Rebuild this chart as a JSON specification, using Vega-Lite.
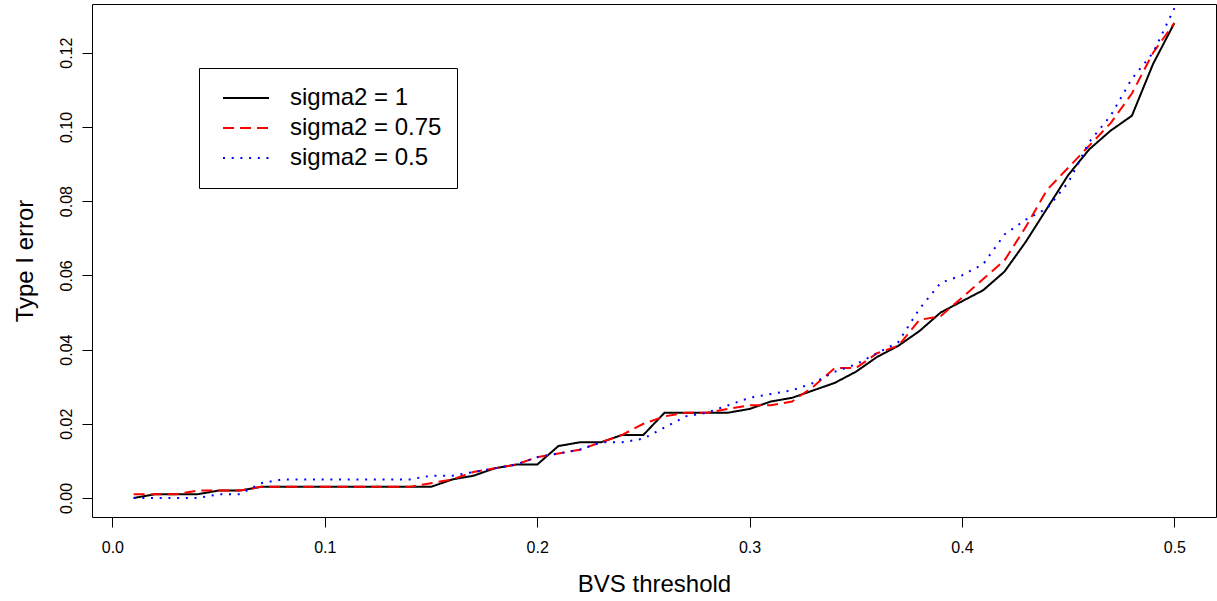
{
  "$schema": "https://vega.github.io/schema/vega-lite/v6.json",
  "width": 1124,
  "height": 513,
  "autosize": {"type": "none"},
  "padding": {"left": 92, "top": 4, "right": 1, "bottom": 84},
  "background": "white",
  "config": {
    "view": {"stroke": "black", "strokeWidth": 1},
    "font": "Liberation Sans",
    "axis": {
      "domain": false,
      "grid": false,
      "tickColor": "black",
      "tickWidth": 1,
      "tickSize": 10,
      "labelColor": "black",
      "labelFont": "Liberation Sans",
      "labelFontSize": 16,
      "titleFont": "Liberation Sans",
      "titleFontSize": 24,
      "titleFontWeight": "normal",
      "titleColor": "black"
    }
  },
  "datasets": {
    "d": [
      {"x":0.01,"s":"sigma2 = 1","v":0.000},{"x":0.02,"s":"sigma2 = 1","v":0.001},{"x":0.03,"s":"sigma2 = 1","v":0.001},{"x":0.04,"s":"sigma2 = 1","v":0.001},{"x":0.05,"s":"sigma2 = 1","v":0.002},
      {"x":0.06,"s":"sigma2 = 1","v":0.002},{"x":0.07,"s":"sigma2 = 1","v":0.003},{"x":0.08,"s":"sigma2 = 1","v":0.003},{"x":0.09,"s":"sigma2 = 1","v":0.003},{"x":0.10,"s":"sigma2 = 1","v":0.003},
      {"x":0.11,"s":"sigma2 = 1","v":0.003},{"x":0.12,"s":"sigma2 = 1","v":0.003},{"x":0.13,"s":"sigma2 = 1","v":0.003},{"x":0.14,"s":"sigma2 = 1","v":0.003},{"x":0.15,"s":"sigma2 = 1","v":0.003},
      {"x":0.16,"s":"sigma2 = 1","v":0.005},{"x":0.17,"s":"sigma2 = 1","v":0.006},{"x":0.18,"s":"sigma2 = 1","v":0.008},{"x":0.19,"s":"sigma2 = 1","v":0.009},{"x":0.20,"s":"sigma2 = 1","v":0.009},
      {"x":0.21,"s":"sigma2 = 1","v":0.014},{"x":0.22,"s":"sigma2 = 1","v":0.015},{"x":0.23,"s":"sigma2 = 1","v":0.015},{"x":0.24,"s":"sigma2 = 1","v":0.017},{"x":0.25,"s":"sigma2 = 1","v":0.017},
      {"x":0.26,"s":"sigma2 = 1","v":0.023},{"x":0.27,"s":"sigma2 = 1","v":0.023},{"x":0.28,"s":"sigma2 = 1","v":0.023},{"x":0.29,"s":"sigma2 = 1","v":0.023},{"x":0.30,"s":"sigma2 = 1","v":0.024},
      {"x":0.31,"s":"sigma2 = 1","v":0.026},{"x":0.32,"s":"sigma2 = 1","v":0.027},{"x":0.33,"s":"sigma2 = 1","v":0.029},{"x":0.34,"s":"sigma2 = 1","v":0.031},{"x":0.35,"s":"sigma2 = 1","v":0.034},
      {"x":0.36,"s":"sigma2 = 1","v":0.038},{"x":0.37,"s":"sigma2 = 1","v":0.041},{"x":0.38,"s":"sigma2 = 1","v":0.045},{"x":0.39,"s":"sigma2 = 1","v":0.050},{"x":0.40,"s":"sigma2 = 1","v":0.053},
      {"x":0.41,"s":"sigma2 = 1","v":0.056},{"x":0.42,"s":"sigma2 = 1","v":0.061},{"x":0.43,"s":"sigma2 = 1","v":0.069},{"x":0.44,"s":"sigma2 = 1","v":0.078},{"x":0.45,"s":"sigma2 = 1","v":0.087},
      {"x":0.46,"s":"sigma2 = 1","v":0.094},{"x":0.47,"s":"sigma2 = 1","v":0.099},{"x":0.48,"s":"sigma2 = 1","v":0.103},{"x":0.49,"s":"sigma2 = 1","v":0.117},{"x":0.50,"s":"sigma2 = 1","v":0.128},

      {"x":0.01,"s":"sigma2 = 0.75","v":0.001},{"x":0.02,"s":"sigma2 = 0.75","v":0.001},{"x":0.03,"s":"sigma2 = 0.75","v":0.001},{"x":0.04,"s":"sigma2 = 0.75","v":0.002},{"x":0.05,"s":"sigma2 = 0.75","v":0.002},
      {"x":0.06,"s":"sigma2 = 0.75","v":0.002},{"x":0.07,"s":"sigma2 = 0.75","v":0.003},{"x":0.08,"s":"sigma2 = 0.75","v":0.003},{"x":0.09,"s":"sigma2 = 0.75","v":0.003},{"x":0.10,"s":"sigma2 = 0.75","v":0.003},
      {"x":0.11,"s":"sigma2 = 0.75","v":0.003},{"x":0.12,"s":"sigma2 = 0.75","v":0.003},{"x":0.13,"s":"sigma2 = 0.75","v":0.003},{"x":0.14,"s":"sigma2 = 0.75","v":0.003},{"x":0.15,"s":"sigma2 = 0.75","v":0.004},
      {"x":0.16,"s":"sigma2 = 0.75","v":0.005},{"x":0.17,"s":"sigma2 = 0.75","v":0.007},{"x":0.18,"s":"sigma2 = 0.75","v":0.008},{"x":0.19,"s":"sigma2 = 0.75","v":0.009},{"x":0.20,"s":"sigma2 = 0.75","v":0.011},
      {"x":0.21,"s":"sigma2 = 0.75","v":0.012},{"x":0.22,"s":"sigma2 = 0.75","v":0.013},{"x":0.23,"s":"sigma2 = 0.75","v":0.015},{"x":0.24,"s":"sigma2 = 0.75","v":0.017},{"x":0.25,"s":"sigma2 = 0.75","v":0.020},
      {"x":0.26,"s":"sigma2 = 0.75","v":0.022},{"x":0.27,"s":"sigma2 = 0.75","v":0.023},{"x":0.28,"s":"sigma2 = 0.75","v":0.023},{"x":0.29,"s":"sigma2 = 0.75","v":0.024},{"x":0.30,"s":"sigma2 = 0.75","v":0.025},
      {"x":0.31,"s":"sigma2 = 0.75","v":0.025},{"x":0.32,"s":"sigma2 = 0.75","v":0.026},{"x":0.33,"s":"sigma2 = 0.75","v":0.030},{"x":0.34,"s":"sigma2 = 0.75","v":0.035},{"x":0.35,"s":"sigma2 = 0.75","v":0.035},
      {"x":0.36,"s":"sigma2 = 0.75","v":0.039},{"x":0.37,"s":"sigma2 = 0.75","v":0.041},{"x":0.38,"s":"sigma2 = 0.75","v":0.048},{"x":0.39,"s":"sigma2 = 0.75","v":0.049},{"x":0.40,"s":"sigma2 = 0.75","v":0.054},
      {"x":0.41,"s":"sigma2 = 0.75","v":0.059},{"x":0.42,"s":"sigma2 = 0.75","v":0.064},{"x":0.43,"s":"sigma2 = 0.75","v":0.073},{"x":0.44,"s":"sigma2 = 0.75","v":0.083},{"x":0.45,"s":"sigma2 = 0.75","v":0.089},
      {"x":0.46,"s":"sigma2 = 0.75","v":0.095},{"x":0.47,"s":"sigma2 = 0.75","v":0.101},{"x":0.48,"s":"sigma2 = 0.75","v":0.109},{"x":0.49,"s":"sigma2 = 0.75","v":0.120},{"x":0.50,"s":"sigma2 = 0.75","v":0.128},

      {"x":0.01,"s":"sigma2 = 0.5","v":0.000},{"x":0.02,"s":"sigma2 = 0.5","v":0.000},{"x":0.03,"s":"sigma2 = 0.5","v":0.000},{"x":0.04,"s":"sigma2 = 0.5","v":0.000},{"x":0.05,"s":"sigma2 = 0.5","v":0.001},
      {"x":0.06,"s":"sigma2 = 0.5","v":0.001},{"x":0.07,"s":"sigma2 = 0.5","v":0.004},{"x":0.08,"s":"sigma2 = 0.5","v":0.005},{"x":0.09,"s":"sigma2 = 0.5","v":0.005},{"x":0.10,"s":"sigma2 = 0.5","v":0.005},
      {"x":0.11,"s":"sigma2 = 0.5","v":0.005},{"x":0.12,"s":"sigma2 = 0.5","v":0.005},{"x":0.13,"s":"sigma2 = 0.5","v":0.005},{"x":0.14,"s":"sigma2 = 0.5","v":0.005},{"x":0.15,"s":"sigma2 = 0.5","v":0.006},
      {"x":0.16,"s":"sigma2 = 0.5","v":0.006},{"x":0.17,"s":"sigma2 = 0.5","v":0.007},{"x":0.18,"s":"sigma2 = 0.5","v":0.008},{"x":0.19,"s":"sigma2 = 0.5","v":0.009},{"x":0.20,"s":"sigma2 = 0.5","v":0.011},
      {"x":0.21,"s":"sigma2 = 0.5","v":0.012},{"x":0.22,"s":"sigma2 = 0.5","v":0.013},{"x":0.23,"s":"sigma2 = 0.5","v":0.015},{"x":0.24,"s":"sigma2 = 0.5","v":0.015},{"x":0.25,"s":"sigma2 = 0.5","v":0.016},
      {"x":0.26,"s":"sigma2 = 0.5","v":0.019},{"x":0.27,"s":"sigma2 = 0.5","v":0.022},{"x":0.28,"s":"sigma2 = 0.5","v":0.023},{"x":0.29,"s":"sigma2 = 0.5","v":0.025},{"x":0.30,"s":"sigma2 = 0.5","v":0.027},
      {"x":0.31,"s":"sigma2 = 0.5","v":0.028},{"x":0.32,"s":"sigma2 = 0.5","v":0.029},{"x":0.33,"s":"sigma2 = 0.5","v":0.031},{"x":0.34,"s":"sigma2 = 0.5","v":0.034},{"x":0.35,"s":"sigma2 = 0.5","v":0.036},
      {"x":0.36,"s":"sigma2 = 0.5","v":0.039},{"x":0.37,"s":"sigma2 = 0.5","v":0.042},{"x":0.38,"s":"sigma2 = 0.5","v":0.051},{"x":0.39,"s":"sigma2 = 0.5","v":0.058},{"x":0.40,"s":"sigma2 = 0.5","v":0.060},
      {"x":0.41,"s":"sigma2 = 0.5","v":0.063},{"x":0.42,"s":"sigma2 = 0.5","v":0.071},{"x":0.43,"s":"sigma2 = 0.5","v":0.075},{"x":0.44,"s":"sigma2 = 0.5","v":0.078},{"x":0.45,"s":"sigma2 = 0.5","v":0.085},
      {"x":0.46,"s":"sigma2 = 0.5","v":0.096},{"x":0.47,"s":"sigma2 = 0.5","v":0.103},{"x":0.48,"s":"sigma2 = 0.5","v":0.113},{"x":0.49,"s":"sigma2 = 0.5","v":0.120},{"x":0.50,"s":"sigma2 = 0.5","v":0.132}
    ]
  },
  "layer": [
    {
      "mark": {"type": "rule", "color": "#444444", "strokeWidth": 1.5},
      "encoding": {"y": {"datum": 0.05, "type": "quantitative"}}
    },
    {
      "data": {"name": "d"},
      "mark": {"type": "line", "strokeWidth": 2, "strokeCap": "butt", "clip": true},
      "encoding": {
        "x": {
          "field": "x", "type": "quantitative",
          "scale": {"domain": [-0.0096, 0.5196], "nice": false, "zero": false},
          "axis": {"values": [0, 0.1, 0.2, 0.3, 0.4, 0.5], "format": ".1f", "title": "BVS threshold", "labelPadding": 12, "titleY": 74, "titleBaseline": "alphabetic"}
        },
        "y": {
          "field": "v", "type": "quantitative",
          "scale": {"domain": [-0.00512, 0.13312], "nice": false, "zero": false},
          "axis": {"values": [0, 0.02, 0.04, 0.06, 0.08, 0.1, 0.12], "format": ".2f", "title": "Type I error", "labelAngle": -90, "labelAlign": "center", "labelBaseline": "bottom", "labelPadding": 8, "titleX": -60, "titleBaseline": "alphabetic", "titleAngle": -90}
        },
        "color": {
          "field": "s", "type": "nominal",
          "scale": {"domain": ["sigma2 = 1", "sigma2 = 0.75", "sigma2 = 0.5"], "range": ["black", "red", "blue"]},
          "legend": {"title": null, "orient": "none", "legendX": 107, "legendY": 64, "padding": 15, "strokeColor": "black", "fillColor": "white", "symbolType": "stroke", "symbolSize": 2116, "symbolStrokeWidth": 2, "symbolOffset": 8, "clipHeight": 30, "rowPadding": 0, "labelOffset": 20, "labelFontSize": 24, "labelFont": "Liberation Sans", "labelColor": "black", "labelLimit": 0}
        },
        "strokeDash": {
          "field": "s", "type": "nominal",
          "scale": {"domain": ["sigma2 = 1", "sigma2 = 0.75", "sigma2 = 0.5"], "range": [[1, 0], [11, 6], [2, 6.7]]},
          "legend": {"title": null, "orient": "none", "legendX": 107, "legendY": 64, "padding": 15, "strokeColor": "black", "fillColor": "white", "symbolType": "stroke", "symbolSize": 2116, "symbolStrokeWidth": 2, "symbolOffset": 8, "clipHeight": 30, "rowPadding": 0, "labelOffset": 20, "labelFontSize": 24, "labelFont": "Liberation Sans", "labelColor": "black", "labelLimit": 0}
        }
      }
    }
  ]
}
